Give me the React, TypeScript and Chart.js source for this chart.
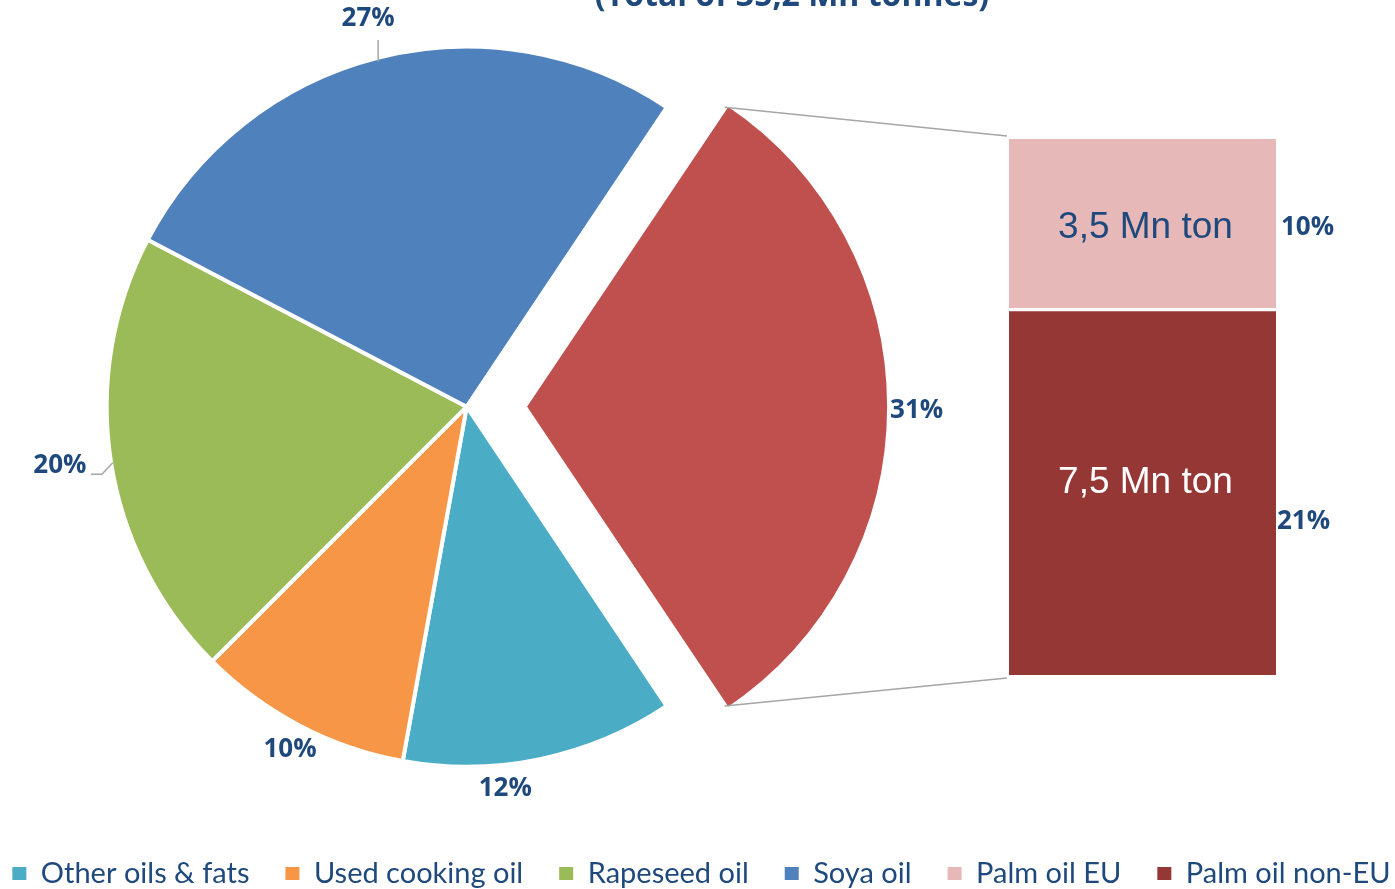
import React, { useEffect, useRef } from 'react';
import { Chart, registerables } from 'chart.js';

Chart.register(...registerables);

// ---------------- data ----------------
const CATEGORIES = ['Other oils & fats', 'Used cooking oil', 'Rapeseed oil', 'Soya oil', 'Palm oil EU', 'Palm oil non-EU'];
const VALUES_MN_T = [4.3, 3.4, 7.1, 9.4, 3.5, 7.5];
const PIE_COMBINED_LABEL = 'Palm oil';
const TITLE_TEXT = '(Total of 35,2 Mn tonnes)';
const BAR_UNIT = 'Mn ton';

// ---------------- styles ----------------
const COLORS = ['#4BACC6', '#F79646', '#9BBB59', '#4F81BD', '#E6B9B8', '#953735'];
const PALM_COLOR = '#C0504D';
const TEXT_BLUE = '#1F497D';
const GREY_LINE = '#A6A6A6';

const PAGE_W = 1395;
const PAGE_H = 889;
const PIE_CANVAS_W = 1515;
const SHIFT = PIE_CANVAS_W / 2 - 701.5; // canvas left offset so the legend is centred like the reference
const PIE_CX = 466.7;
const PIE_CY = 406.7;
const PIE_R = 360;
const EXPLODE = 58;

const BAR_LEFT = 1009;
const BAR_TOP = 139;
const BAR_BOTTOM = 675;
const BAR_W = 267;
const BAR_CANVAS_W = PAGE_W - BAR_LEFT;

// label placement for pie slices (order: palm, other, uco, rapeseed, soya)
const LABEL_PLACE = [
  { dr: 32, da: 0.6, leader: 'none' },
  { dr: 24, da: 6.0, leader: 'none' },
  { dr: 25.8, da: -0.35, leader: 'none' },
  { dr: 51, da: 0.5, leader: 'elbow' },
  { dr: 40, da: 0.06, leader: 'vertical' },
];

const PCT_FONT = 'bold 26px "Open Sans"';

// ---------------- derived ----------------
const TOTAL = VALUES_MN_T.reduce((a, b) => a + b, 0);
const PALM_TOTAL = VALUES_MN_T[4] + VALUES_MN_T[5];
const PIE_LABELS = [PIE_COMBINED_LABEL, ...CATEGORIES.slice(0, 4)];
const PIE_VALUES = [PALM_TOTAL, ...VALUES_MN_T.slice(0, 4)];
const PIE_COLORS = [PALM_COLOR, ...COLORS.slice(0, 4)];
const pct = (v: number) => Math.round((v / TOTAL) * 100) + '%';

const pieOverlayPlugin = {
  id: 'pieOverlay',
  afterLayout(chart: any) {
    const cx = PIE_CX + SHIFT;
    const half = PIE_R + 20;
    chart.chartArea = {
      left: cx - half,
      right: cx + half,
      top: PIE_CY - half,
      bottom: PIE_CY + half,
      width: half * 2,
      height: half * 2,
    };
  },
  afterDatasetsDraw(chart: any) {
    const ctx: CanvasRenderingContext2D = chart.ctx;
    const meta = chart.getDatasetMeta(0);
    ctx.save();
    meta.data.forEach((arc: any, i: number) => {
      const off = (arc.options.offset || 0) / 4;
      const mid = (arc.startAngle + arc.endAngle) / 2;
      const cx = arc.x + Math.cos(mid) * off;
      const cy = arc.y + Math.sin(mid) * off;
      const place = LABEL_PLACE[i];
      const a = mid + (place.da * Math.PI) / 180;
      const r = arc.outerRadius + place.dr;
      const lx = cx + Math.cos(a) * r;
      const ly = cy + Math.sin(a) * r;
      const visR = arc.outerRadius - 2;
      const px = cx + Math.cos(mid) * visR;
      const py = cy + Math.sin(mid) * visR;
      ctx.strokeStyle = GREY_LINE;
      ctx.lineWidth = 1.5;
      if (place.leader === 'vertical') {
        ctx.beginPath();
        ctx.moveTo(px, py + 2);
        ctx.lineTo(px, ly + 21);
        ctx.stroke();
      } else if (place.leader === 'elbow') {
        ctx.beginPath();
        ctx.moveTo(px, py + 2);
        ctx.lineTo(lx + 42, ly + 9);
        ctx.lineTo(lx + 31, ly + 9);
        ctx.stroke();
      }
      ctx.font = PCT_FONT;
      ctx.fillStyle = TEXT_BLUE;
      ctx.textAlign = 'center';
      ctx.textBaseline = 'middle';
      ctx.fillText(pct(PIE_VALUES[i]), lx, ly);

      if (i === 0) {
        // connector lines from exploded slice to the stacked bar
        const sx1 = cx + Math.cos(arc.startAngle) * arc.outerRadius;
        const sy1 = cy + Math.sin(arc.startAngle) * arc.outerRadius;
        const sx2 = cx + Math.cos(arc.endAngle) * arc.outerRadius;
        const sy2 = cy + Math.sin(arc.endAngle) * arc.outerRadius;
        ctx.strokeStyle = GREY_LINE;
        ctx.lineWidth = 1.5;
        ctx.beginPath();
        ctx.moveTo(sx1, sy1);
        ctx.lineTo(BAR_LEFT - 2 + SHIFT, BAR_TOP - 3);
        ctx.moveTo(sx2, sy2);
        ctx.lineTo(BAR_LEFT - 2 + SHIFT, BAR_BOTTOM + 3);
        ctx.stroke();
      }
    });
    // title (partly cut at the top edge, as in the reference)
    ctx.font = 'bold 32px "Open Sans"';
    ctx.fillStyle = TEXT_BLUE;
    ctx.textAlign = 'center';
    ctx.textBaseline = 'alphabetic';
    ctx.fillText(TITLE_TEXT, 792 + SHIFT, 6);
    ctx.restore();
  },
};

const BAR_TEXT_STYLE = [
  { color: '#FFFFFF', dy: -9, pctDx: 1, pctDy: 29 }, // non-EU
  { color: TEXT_BLUE, dy: 4, pctDx: 5, pctDy: 3 }, // EU
];

const barLabelPlugin = {
  id: 'barLabels',
  afterDatasetsDraw(chart: any) {
    const ctx: CanvasRenderingContext2D = chart.ctx;
    ctx.save();
    chart.data.datasets.forEach((ds: any, di: number) => {
      const bar = chart.getDatasetMeta(di).data[0];
      const v = ds.data[0] as number;
      const midY = (bar.y + bar.base) / 2;
      const st = BAR_TEXT_STYLE[di];
      ctx.font = '37px "Liberation Sans"';
      ctx.fillStyle = st.color;
      ctx.textAlign = 'center';
      ctx.textBaseline = 'middle';
      ctx.fillText(v.toFixed(1).replace('.', ',') + ' ' + BAR_UNIT, bar.x + 3, midY + st.dy);
      ctx.font = PCT_FONT;
      ctx.fillStyle = TEXT_BLUE;
      ctx.textAlign = 'left';
      ctx.fillText(pct(v), bar.x + bar.width / 2 + st.pctDx, midY + st.pctDy);
    });
    ctx.restore();
  },
};

export default function App() {
  const pieRef = useRef<HTMLCanvasElement>(null);
  const barRef = useRef<HTMLCanvasElement>(null);

  useEffect(() => {
    const rotation = 90 - (PALM_TOTAL / TOTAL) * 180;
    const pie = new Chart(pieRef.current as HTMLCanvasElement, {
      type: 'pie',
      data: {
        labels: PIE_LABELS,
        datasets: [
          {
            data: PIE_VALUES,
            backgroundColor: PIE_COLORS,
            borderColor: '#FFFFFF',
            borderWidth: 4,
            offset: PIE_VALUES.map((_, i) => (i === 0 ? EXPLODE * 4 : 0)),
            radius: PIE_R,
          } as any,
        ],
      },
      options: {
        responsive: false,
        animation: false,
        events: [],
        rotation,
        layout: { padding: { top: 0, left: 0, right: 0, bottom: -9 } },
        plugins: {
          tooltip: { enabled: false },
          legend: {
            display: true,
            position: 'bottom',
            onClick: () => {},
            labels: {
              boxWidth: 14,
              boxHeight: 13,
              padding: 36,
              color: TEXT_BLUE,
              font: { family: 'Lato', size: 29 },
              generateLabels: () =>
                CATEGORIES.map((t, i) => ({
                  text: t,
                  fillStyle: COLORS[i],
                  strokeStyle: COLORS[i],
                  lineWidth: 0,
                  hidden: false,
                  index: i,
                  fontColor: TEXT_BLUE,
                })),
            },
          },
        },
      } as any,
      plugins: [pieOverlayPlugin],
    });

    const bar = new Chart(barRef.current as HTMLCanvasElement, {
      type: 'bar',
      data: {
        labels: [PIE_COMBINED_LABEL],
        datasets: [
          {
            label: CATEGORIES[5],
            data: [VALUES_MN_T[5]],
            backgroundColor: COLORS[5],
            borderColor: '#FFFFFF',
            borderWidth: { top: 2, bottom: 0, left: 0, right: 0 },
            borderSkipped: false,
          } as any,
          {
            label: CATEGORIES[4],
            data: [VALUES_MN_T[4]],
            backgroundColor: COLORS[4],
            borderColor: '#FFFFFF',
            borderWidth: { top: 0, bottom: 2, left: 0, right: 0 },
            borderSkipped: false,
          } as any,
        ],
      },
      options: {
        responsive: false,
        animation: false,
        events: [],
        layout: { padding: { left: 0, right: BAR_CANVAS_W - BAR_W, top: 0, bottom: 0 } },
        datasets: { bar: { barPercentage: 1, categoryPercentage: 1 } },
        scales: {
          x: { display: false, stacked: true },
          y: { display: false, stacked: true, min: 0, max: PALM_TOTAL },
        },
        plugins: { legend: { display: false }, tooltip: { enabled: false } },
      } as any,
      plugins: [barLabelPlugin],
    });

    return () => {
      pie.destroy();
      bar.destroy();
    };
  }, []);

  return (
    <div
      style={{
        position: 'fixed',
        left: 0,
        top: 0,
        width: PAGE_W,
        height: PAGE_H,
        overflow: 'hidden',
        background: '#FFFFFF',
      }}
    >
      <canvas
        ref={pieRef}
        width={PIE_CANVAS_W}
        height={PAGE_H}
        style={{ position: 'absolute', left: -SHIFT, top: 0, width: PIE_CANVAS_W, height: PAGE_H }}
      />
      <canvas
        ref={barRef}
        width={BAR_CANVAS_W}
        height={BAR_BOTTOM - BAR_TOP}
        style={{ position: 'absolute', left: BAR_LEFT, top: BAR_TOP, width: BAR_CANVAS_W, height: BAR_BOTTOM - BAR_TOP }}
      />
    </div>
  );
}
